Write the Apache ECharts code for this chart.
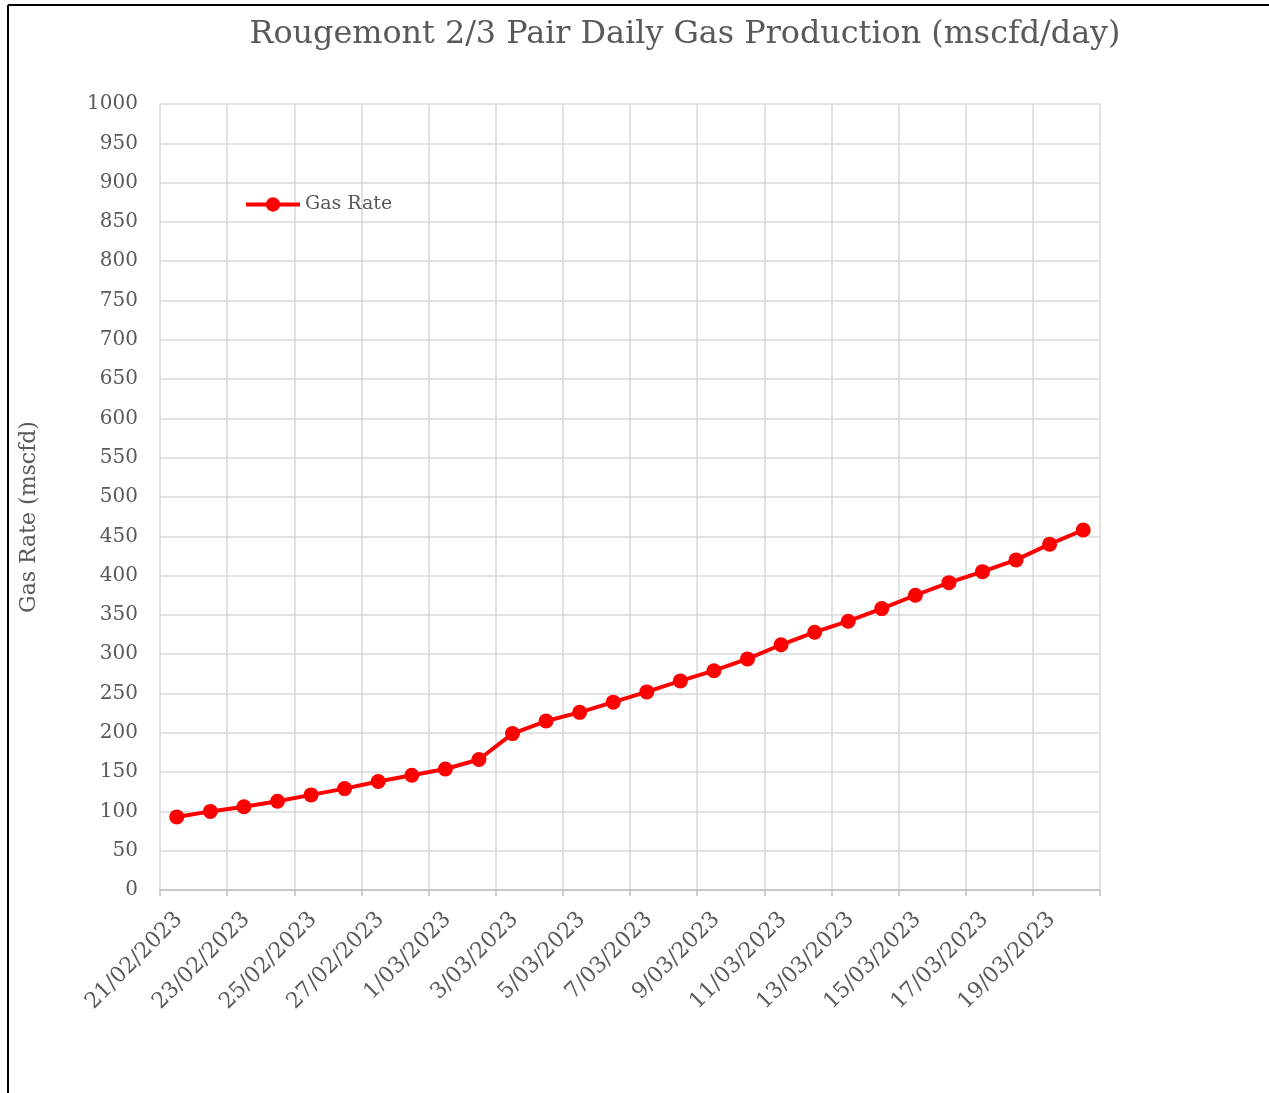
<!DOCTYPE html>
<html><head><meta charset="utf-8">
<script src="https://cdn.jsdelivr.net/npm/echarts@6/dist/echarts.min.js"></script>
<style>html,body{margin:0;padding:0;background:#fff}#c{width:1269px;height:1093px}</style>
</head><body><div id="c"></div>
<script>
const dates = ['21/02/2023','22/02/2023','23/02/2023','24/02/2023','25/02/2023','26/02/2023','27/02/2023','28/02/2023',
  '1/03/2023','2/03/2023','3/03/2023','4/03/2023','5/03/2023','6/03/2023','7/03/2023','8/03/2023','9/03/2023','10/03/2023',
  '11/03/2023','12/03/2023','13/03/2023','14/03/2023','15/03/2023','16/03/2023','17/03/2023','18/03/2023','19/03/2023','20/03/2023'];
const gasRate = [93, 100, 106, 113, 121, 129, 138, 146, 154, 166, 199, 215, 226, 239, 252, 266, 279, 294, 312, 328, 342, 358, 375, 391, 405, 420, 440, 458];
const yTicks = {min: 0, max: 1000, interval: 50};

const FONT = 'DejaVu Serif';
const TXT = '#595959';
const RED = '#ff0000';
const chart = echarts.init(document.getElementById('c'));
chart.setOption({
  animation: false,
  textStyle: {fontFamily: FONT},
  title: {text: 'Rougemont 2/3 Pair Daily Gas Production (mscfd/day)', left: 680, textAlign: 'center', top: 14,
    textStyle: {fontFamily: FONT, fontSize: 31.8, fontWeight: 'normal', color: TXT}},
  legend: {left: 239, top: 190, itemWidth: 54, itemHeight: 18, itemGap: 2,
    textStyle: {fontFamily: FONT, fontSize: 19, color: TXT},
    data: [{name: 'Gas Rate', itemStyle: {color: RED}, lineStyle: {color: RED, width: 4}}]},
  grid: {left: 160, right: 169, top: 104, bottom: 203},
  xAxis: {type: 'value', min: 0, max: dates.length, interval: 2,
    axisLine: {lineStyle: {color: '#bfbfbf', width: 1.5}},
    axisTick: {show: true, length: 6, lineStyle: {color: '#bfbfbf', width: 1.5}},
    splitLine: {show: true, lineStyle: {color: '#d9d9d9', width: 1.5}},
    axisLabel: {rotate: 45, margin: 7, color: TXT, fontFamily: FONT, fontSize: 22,
      verticalAlign: 'top', padding: [16, 0, 0, 0],
      formatter: v => (v < dates.length ? dates[v] : '')}},
  yAxis: {type: 'value', min: yTicks.min, max: yTicks.max, interval: yTicks.interval,
    axisLine: {show: false}, axisTick: {show: false},
    splitLine: {show: true, lineStyle: {color: '#d9d9d9', width: 1.5}},
    axisLabel: {color: TXT, fontFamily: FONT, fontSize: 20, margin: 22, formatter: v => String(v)}},
  series: [{name: 'Gas Rate', type: 'line', symbol: 'circle', symbolSize: 15,
    lineStyle: {color: RED, width: 4}, itemStyle: {color: RED},
    data: gasRate.map((v, i) => [i + 0.5, v])}],
  graphic: [
    {type: 'line', shape: {x1: 8, y1: 5, x2: 1269, y2: 5}, style: {stroke: '#000', lineWidth: 2}},
    {type: 'line', shape: {x1: 8, y1: 5, x2: 8, y2: 1093}, style: {stroke: '#000', lineWidth: 2}},
    {type: 'text', x: 29, y: 517, rotation: Math.PI / 2,
      style: {text: 'Gas Rate (mscfd)', fill: TXT, font: '22px "DejaVu Serif"', textAlign: 'center', textVerticalAlign: 'middle'}}
  ]
});
</script></body></html>
